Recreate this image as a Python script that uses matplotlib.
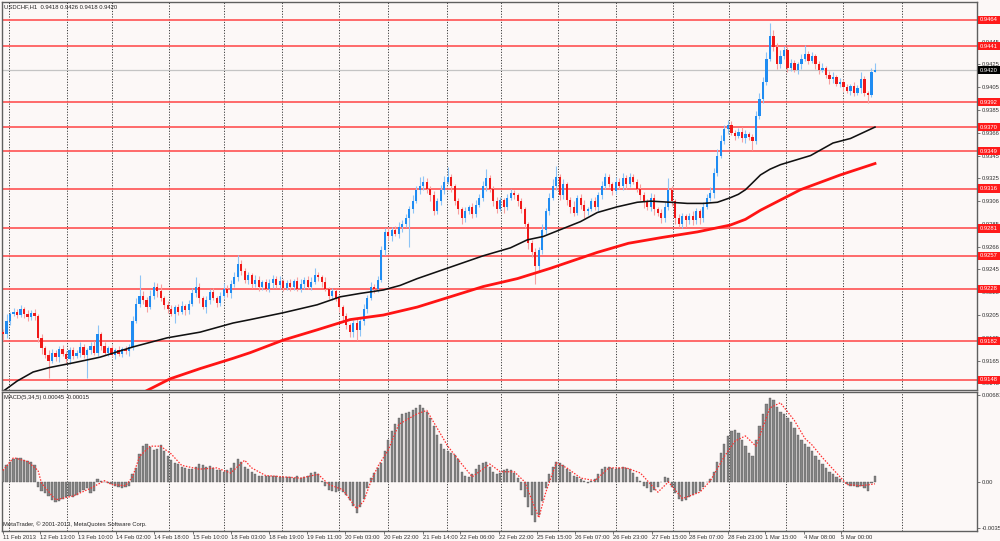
import matplotlib
matplotlib.use('Agg')
import matplotlib.pyplot as plt
import matplotlib.transforms as mtransforms
import numpy as np

# ---------------- data (prices in 1e-4 units, MACD in 1e-5 units) ----------------
first_open = 9190
closes = [
    9188, 9200, 9206, 9208, 9205, 9210, 9206, 9203, 9207, 9204,
    9185, 9176, 9170, 9165, 9172, 9168, 9175, 9171, 9166, 9174,
    9169, 9172, 9177, 9170, 9174, 9178, 9172, 9188, 9178, 9172,
    9176, 9170, 9174, 9171, 9175, 9173, 9177, 9200, 9215, 9222,
    9218, 9212, 9222, 9230, 9226, 9220, 9214, 9210, 9206, 9212,
    9208, 9213, 9209, 9215, 9224, 9230, 9220, 9212, 9218, 9225,
    9220, 9216, 9222, 9228, 9224, 9232, 9238, 9250, 9244, 9236,
    9240, 9232, 9236, 9230, 9234, 9228, 9233, 9237, 9231, 9235,
    9229, 9233, 9230, 9235, 9228, 9232, 9236, 9230, 9234, 9240,
    9238, 9234, 9228, 9222, 9226, 9220, 9212, 9204, 9196, 9190,
    9198, 9192, 9200, 9210, 9220, 9230, 9228, 9236, 9262, 9278,
    9274, 9280, 9276, 9282, 9285, 9290, 9298, 9305, 9315, 9318,
    9322, 9316, 9310, 9296, 9305, 9315, 9322, 9326, 9318, 9305,
    9298, 9290, 9296, 9300, 9294, 9302, 9308, 9318, 9325, 9316,
    9305, 9298, 9306, 9300, 9308, 9312, 9310, 9305, 9298, 9285,
    9268, 9260, 9248, 9262, 9280, 9296, 9308, 9318, 9326, 9310,
    9320, 9306, 9300, 9295, 9308, 9302, 9296, 9298, 9305, 9300,
    9310, 9318, 9326, 9320, 9314, 9322, 9318, 9325, 9320, 9326,
    9322, 9316, 9310, 9305, 9300, 9308, 9298, 9295, 9290, 9300,
    9315, 9305, 9290, 9285, 9292, 9288, 9292, 9288, 9296, 9290,
    9300, 9308, 9312, 9330, 9345, 9358, 9368, 9372, 9365, 9362,
    9366, 9360, 9364, 9361, 9358, 9380, 9395, 9410, 9430, 9450,
    9440, 9425, 9432, 9438, 9422, 9426, 9420, 9425, 9430, 9434,
    9428, 9432, 9425, 9420, 9422, 9416, 9412, 9414, 9408, 9410,
    9405, 9402, 9406, 9400, 9404, 9412, 9400, 9398, 9418, 9420,
]
hi_wick = [
    3, 6, 2, 3, 2, 4, 2, 3, 2, 3,
    2, 3, 2, 4, 3, 2, 3, 4, 2, 3,
    3, 2, 4, 3, 2, 3, 4, 8, 2, 3,
    2, 3, 2, 4, 2, 3, 3, 4, 5, 18,
    4, 3, 5, 4, 3, 6, 2, 3, 4, 2,
    3, 4, 2, 3, 5, 8, 3, 2, 4, 3,
    4, 2, 3, 5, 3, 4, 5, 8, 3, 2,
    3, 2, 4, 3, 2, 3, 4, 3, 2, 4,
    2, 3, 4, 2, 3, 5, 2, 3, 4, 6,
    3, 2, 4, 2, 3, 2, 3, 2, 3, 2,
    3, 4, 2, 5, 3, 4, 2, 3, 4, 3,
    4, 2, 3, 5, 3, 4, 3, 5, 3, 8,
    5, 3, 2, 4, 3, 4, 5, 9, 3, 2,
    3, 2, 4, 2, 3, 4, 3, 5, 8, 3,
    2, 4, 3, 2, 3, 4, 3, 2, 3, 2,
    2, 3, 4, 3, 5, 3, 4, 6, 10, 3,
    4, 2, 3, 5, 2, 3, 4, 2, 3, 4,
    3, 5, 4, 3, 2, 4, 3, 5, 3, 4,
    3, 2, 4, 3, 2, 4, 3, 2, 3, 4,
    10, 3, 2, 4, 3, 2, 3, 4, 3, 2,
    4, 3, 5, 4, 6, 5, 4, 4, 3, 2,
    3, 4, 3, 2, 3, 4, 5, 4, 6, 11,
    5, 4, 6, 3, 2, 4, 3, 2, 4, 8,
    3, 4, 2, 3, 4, 2, 3, 4, 2, 3,
    2, 3, 2, 4, 3, 6, 3, 2, 4, 6,
]
lo_wick = [
    5, 3, 4, 2, 3, 2, 4, 3, 2, 3,
    4, 5, 3, 15, 2, 3, 4, 2, 3, 4,
    3, 2, 4, 3, 20, 3, 2, 3, 4, 2,
    3, 2, 4, 2, 3, 2, 4, 3, 2, 3,
    3, 4, 2, 3, 5, 3, 4, 3, 2, 8,
    3, 2, 4, 3, 2, 3, 4, 2, 5, 3,
    2, 4, 3, 2, 3, 4, 2, 3, 4, 3,
    4, 3, 2, 4, 3, 2, 3, 4, 2, 3,
    3, 2, 4, 3, 2, 3, 4, 2, 3, 2,
    3, 4, 2, 3, 4, 3, 4, 5, 3, 4,
    4, 9, 5, 4, 3, 2, 4, 3, 2, 4,
    3, 4, 2, 3, 4, 3, 25, 3, 2, 4,
    3, 4, 5, 3, 2, 3, 4, 2, 5, 3,
    4, 5, 3, 2, 4, 3, 2, 3, 4, 3,
    4, 3, 2, 5, 3, 2, 3, 4, 3, 4,
    5, 4, 16, 5, 3, 4, 3, 2, 3, 4,
    3, 4, 5, 3, 2, 4, 6, 3, 2, 3,
    4, 3, 2, 3, 4, 3, 2, 3, 4, 3,
    2, 3, 4, 6, 3, 4, 5, 3, 4, 3,
    3, 4, 5, 3, 4, 6, 3, 4, 3, 5,
    3, 2, 3, 4, 3, 2, 3, 4, 2, 3,
    2, 3, 4, 2, 8, 3, 3, 4, 3, 2,
    3, 4, 3, 2, 4, 3, 2, 3, 4, 2,
    3, 2, 4, 3, 2, 3, 4, 3, 2, 3,
    3, 2, 4, 3, 2, 4, 3, 7, 2, 0,
]
macd_hist = [
    90, 130, 160, 180, 190, 185, 175, 165, 160, 130,
    -40, -70, -90, -110, -140, -160, -150, -130, -120, -110,
    -115, -100, -80, -60, -50, -90, -70, 20, 10, 0,
    -10, -20, -30, -40, -45, -40, -30, 60, 110, 220,
    280, 300, 270, 250, 260, 290, 240, 200, 170, 150,
    140, 120, 110, 100, 105, 120, 140, 130, 120, 125,
    110, 95, 90, 80, 90, 110, 150, 180, 160, 120,
    100, 80, 60, 50, 50, 45, 50, 50, 45, 40,
    40, 35, 40, 30, 45, 30, 35, 50, 70, 80,
    60, 10, -30, -60, -70, -80, -70, -80, -100, -140,
    -190, -240, -200, -130, -50, 30, 70, 110, 150, 240,
    330, 400, 450, 500, 530, 540, 550, 560, 580, 600,
    580, 550, 500, 440, 370, 300, 260, 240, 230, 210,
    180, 80, 50, 40, 60, 100, 130, 150, 160, 120,
    80, 60, 70, 90, 100, 90, 70, 30, -60, -120,
    -200, -260, -310, -260, -150, -50, 60, 120, 160, 150,
    130, 100, 80, 50, 40, 20, 10, -10, 5, 20,
    60, 100, 120, 120, 110, 100, 110, 120, 110, 100,
    70, 40, 10, -30, -50, -80, -60, -40, 0, 40,
    30, -40, -90, -130, -150, -140, -120, -100, -90, -70,
    -40, 0, 20, 80, 160, 230, 300, 360, 400, 410,
    380, 330, 280, 230, 200, 330, 440, 530, 610, 660,
    640, 590, 550, 530, 500, 470, 420, 370, 330, 300,
    270, 240, 200, 170, 140, 110, 80, 60, 40, 20,
    0, -20, -30, -30, -40, -30, -50, -70, -10, 45,
]
sig_idx = [0, 3, 7, 10, 11, 15, 20, 25, 29, 31, 35, 37, 39, 42, 45, 48, 51, 56, 61, 65,
           69, 71, 75, 85, 90, 93, 97, 101, 103, 105, 107, 110, 113, 118, 121, 124, 127,
           131, 134, 139, 142, 146, 149, 153, 155, 158, 161, 165, 169, 173, 178, 182, 187,
           190, 194, 199, 202, 206, 209, 212, 215, 219, 222, 226, 229, 231, 234, 238, 241,
           245, 249]
sig_val = [90, 190, 160, 90, -10, -140, -110, -50, 10, -20, -30, 40, 200, 280, 280, 220,
           130, 100, 110, 70, 170, 110, 50, 30, 60, -20, -60, -210, -150, 0, 120, 250, 450,
           530, 560, 420, 280, 140, 40, 140, 80, 80, 0, -280, -80, 150, 110, 30, 10, 110,
           110, 70, -80, 0, -130, -80, 10, 200, 320, 360, 280, 580, 620, 480, 340, 290, 190,
           70, -20, -30, -15]
ma_black_idx = [0, 4, 8.6, 13.4, 20, 27.7, 37.1, 46.9, 56.3, 65.7, 70.6, 80, 89.7, 96.3, 102,
                108.6, 113.4, 118.3, 127.7, 137.1, 144.9, 149.7, 154.3, 160, 164.9, 169.7,
                175.4, 181.1, 184.9, 190.6, 195.4, 200, 204, 207.7, 210, 212, 214, 216.3,
                219, 222, 226.3, 230.6, 237, 242, 249]
ma_black_val = [9138, 9147, 9155, 9159, 9163, 9168, 9177, 9185, 9190, 9198, 9201, 9207, 9214,
                9221, 9224, 9227, 9231, 9237, 9247, 9257, 9264, 9271, 9274, 9281, 9287, 9295,
                9300, 9304, 9305, 9304, 9303, 9303, 9304, 9308, 9311, 9315, 9321, 9328, 9333,
                9337, 9341, 9345, 9356, 9360, 9370]
ma_red_idx = [40, 47.7, 56.3, 65.7, 70.6, 80, 89.7, 99.1, 108.6, 118.3, 127.7, 137.1, 146.9,
              156.3, 169.7, 178.6, 188, 198.3, 207.7, 212, 216.3, 227.7, 239.1, 249]
ma_red_val = [9137, 9149, 9158, 9167, 9172, 9183, 9192, 9201, 9205, 9212, 9221, 9230, 9237,
              9246, 9260, 9268, 9273, 9278, 9284, 9289, 9297, 9315, 9328, 9338]
level_lines = [0.9464, 0.9441, 0.9392, 0.9370, 0.9349, 0.9316, 0.9281, 0.9257, 0.9228,
               0.9182, 0.9148]
current_price = 0.9420
price_ticks = [0.9145, 0.9165, 0.9185, 0.9205, 0.9225, 0.9245, 0.9265, 0.9285, 0.9305,
               0.9325, 0.9345, 0.9365, 0.9385, 0.9405, 0.9425, 0.9445]
price_tick_labels = ['0.9145', '0.9165', '0.9185', '0.9205', '0.9225', '0.9245', '0.9266',
                     '0.9285', '0.9306', '0.9325', '0.9345', '0.9366', '0.9385', '0.9405',
                     '0.9425', '0.9445']
macd_ticks = [0.00681, 0.0, -0.00359]
macd_tick_labels = ['0.00681', '0.00', '-0.00359']
date_idx = [0, 10.6, 21.4, 32.3, 43.1, 54.3, 65.1, 76, 86.9, 97.7, 108.9, 120, 130.6, 141.7,
            152.6, 163.4, 174.3, 185.4, 196, 206.9, 217.7, 228.6, 239.4]
date_labels = ['11 Feb 2013', '12 Feb 13:00', '13 Feb 10:00', '14 Feb 02:00', '14 Feb 18:00',
               '15 Feb 10:00', '18 Feb 03:00', '18 Feb 19:00', '19 Feb 11:00', '20 Feb 03:00',
               '20 Feb 22:00', '21 Feb 14:00', '22 Feb 06:00', '22 Feb 22:00', '25 Feb 15:00',
               '26 Feb 07:00', '26 Feb 23:00', '27 Feb 15:00', '28 Feb 07:00', '28 Feb 23:00',
               '1 Mar 15:00', '4 Mar 08:00', '5 Mar 00:00']
grid_idx = [1.7, 18.3, 31.1, 47.4, 63.1, 79.7, 96, 110, 126.9, 142.3, 158.6, 175.1, 191.4,
            207.4, 223.7, 240, 256.6]
title_text = 'USDCHF,H1  0.9418 0.9426 0.9418 0.9420'
macd_text = 'MACD(5,34,5) 0.00045 -0.00015'
copyright_text = 'MetaTrader, \u00a9 2001-2013, MetaQuotes Software Corp.'

# ---------------- style ----------------
BG = '#fcf8f7'
FRAME = '#5f5f5f'
plt.rcParams['font.family'] = ['Liberation Sans', 'DejaVu Sans']
FS = 4.2

W, H = 1000, 541
fig = plt.figure(figsize=(10, 5.41), dpi=100, facecolor=BG)


def rect(l, t, r, b):
    return [l / W, 1 - b / H, (r - l) / W, (b - t) / H]


ax = fig.add_axes(rect(2, 2, 977, 390))
axm = fig.add_axes(rect(2, 392, 977, 531))

n = len(closes)
spacing = (875 - 3) / (n - 1)          # pixels per bar
xl = -(3 - 2) / spacing
xr = xl + 975 / spacing
x = np.arange(n)

c = np.array(closes, dtype=float) / 1e4
o = np.concatenate([[first_open], closes[:-1]]).astype(float) / 1e4
hi = np.maximum(o, c) + np.array(hi_wick) / 1e4
lo = np.minimum(o, c) - np.array(lo_wick) / 1e4
up = c >= o

for a in (ax, axm):
    a.set_facecolor(BG)
    a.set_xlim(xl, xr)
    for sp in a.spines.values():
        sp.set_color(FRAME)
        sp.set_linewidth(1.0)
    for g in grid_idx:
        a.axvline(g, color='#3c3c3c', lw=0.7, ls=(0, (1.2, 1.6)), zorder=1)

# level lines
for v in level_lines:
    ax.axhline(v, color='#ff5252', lw=1.2, zorder=2)
ax.axhline(current_price, color='#c4c4c4', lw=0.9, zorder=2)

# candles
ax.vlines(x[up], lo[up], hi[up], color='#8ec4f6', lw=0.8, zorder=3)
ax.vlines(x[~up], lo[~up], hi[~up], color='#f7a0a0', lw=0.8, zorder=3)
body_bot = np.minimum(o, c)
body_h = np.maximum(np.abs(c - o), 0.00007)
ax.bar(x[up], body_h[up], bottom=body_bot[up], width=0.62, color='#1f8cf2', lw=0, zorder=4)
ax.bar(x[~up], body_h[~up], bottom=body_bot[~up], width=0.62, color='#f01818', lw=0, zorder=4)

# moving averages
ax.plot(ma_black_idx, np.array(ma_black_val) / 1e4, color='#111111', lw=1.15, zorder=5,
        solid_joinstyle='round')
ax.plot(ma_red_idx, np.array(ma_red_val) / 1e4, color='#ff1414', lw=2.0, zorder=5,
        solid_joinstyle='round')

ax.set_ylim(0.91392, 0.94798)
ax.yaxis.tick_right()
ax.set_yticks(price_ticks)
ax.set_yticklabels(price_tick_labels)
ax.tick_params(axis='y', labelsize=FS, length=2, width=0.6, pad=1.5,
               color=FRAME, labelcolor='#333333')
ax.tick_params(axis='x', bottom=False, labelbottom=False)

trans = mtransforms.blended_transform_factory(ax.transAxes, ax.transData)
for v in level_lines:
    ax.text(1.003, v, f'{v:.4f}', transform=trans, fontsize=FS, color='white',
            va='center', ha='left', clip_on=False, zorder=10,
            bbox=dict(boxstyle='square,pad=0.3', fc='#ff1a1a', ec='none'))
ax.text(1.003, current_price, f'{current_price:.4f}', transform=trans, fontsize=FS,
        color='white', va='center', ha='left', clip_on=False, zorder=10,
        bbox=dict(boxstyle='square,pad=0.3', fc='#000000', ec='none'))

# MACD
mh = np.array(macd_hist) / 1e5
axm.bar(x, mh, width=0.62, color='#858585', edgecolor='#4f4f4f', lw=0.25, zorder=3)
axm.plot(sig_idx, np.array(sig_val) / 1e5, color='#ff3030', lw=0.9, ls=(0, (1.2, 1.2)), zorder=4)
axm.set_ylim(-0.00384, 0.00704)
axm.yaxis.tick_right()
axm.set_yticks(macd_ticks)
axm.set_yticklabels(macd_tick_labels)
axm.tick_params(axis='y', labelsize=FS, length=2, width=0.6, pad=1.5,
                color=FRAME, labelcolor='#333333')
axm.set_xticks(date_idx)
axm.set_xticklabels(date_labels)
axm.tick_params(axis='x', labelsize=FS, length=2, width=0.6, pad=1.2,
                color=FRAME, labelcolor='#333333')
for t in axm.get_xticklabels():
    t.set_ha('left')

fig.text(4 / W, 1 - 7 / H, title_text, fontsize=FS, color='#222222', va='center', ha='left')
fig.text(4 / W, 1 - 397 / H, macd_text, fontsize=FS, color='#222222', va='center', ha='left')
fig.text(3 / W, 1 - 524 / H, copyright_text, fontsize=FS, color='#222222', va='center', ha='left')

fig.savefig('out.png', dpi=100, facecolor=BG)
